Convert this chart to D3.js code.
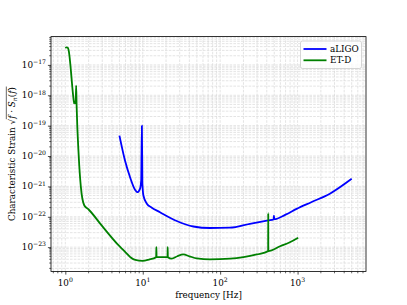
<!DOCTYPE html>
<html>
<head>
<meta charset="utf-8">
<script src="https://cdn.jsdelivr.net/npm/d3@7"></script>
<style>
  html, body { margin: 0; padding: 0; background: #fff; }
  svg { display: block; font-family: "DejaVu Serif", serif; }
</style>
</head>
<body>
<svg id="chart" width="407" height="305"></svg>
<script>
// series (frequency in Hz, log10 of characteristic strain)
const aligoFreq = [5.0, 5.9, 6.86, 7.95, 8.5, 9.22, 9.55, 9.75, 9.9, 10.2, 11.3, 13.1, 16.7, 27.5, 45, 73.8, 134, 242, 418, 490, 495, 500, 700, 971, 1500, 2612, 5000];
const aligoLog  = [-19.33, -20.15, -20.70, -21.11, -21.19, -21.08, -20.8, -19.0, -20.9, -21.30, -21.57, -21.70, -21.85, -22.14, -22.32, -22.37, -22.36, -22.23, -22.12, -22.09, -21.96, -22.08, -21.93, -21.74, -21.52, -21.24, -20.75];

const etFreq = [1.0, 1.04, 1.08, 1.1, 1.28, 1.30, 1.33, 1.36, 1.38, 1.40, 1.49, 1.585, 1.76, 2, 3, 5, 6, 7, 8, 10, 12, 14.9, 15.0, 15.1, 18, 20.9, 21.0, 21.1, 23.7, 28, 33.4, 40, 50, 73.8, 134, 200, 297, 417, 418, 419, 594, 795, 1018];
const etLog  = [-16.44, -16.42, -16.44, -16.5, -18.15, -18.27, -18.2, -18.27, -17.68, -18.35, -20.0, -21.0, -21.63, -21.76, -22.31, -22.97, -23.17, -23.34, -23.42, -23.45, -23.41, -23.33, -23.0, -23.33, -23.33, -23.33, -23.0, -23.33, -23.38, -23.3, -23.24, -23.3, -23.37, -23.40, -23.38, -23.33, -23.24, -23.13, -21.88, -23.13, -22.97, -22.84, -22.69];

const seriesNames = ['aLIGO', 'ET-D'];
const seriesColors = ['#0000ff', '#008000'];

const xMajor = [1, 10, 100, 1000];
const yMajorExp = [-23, -22, -21, -20, -19, -18, -17];

const W = 407, H = 305;
const margin = {top: 36.6, right: 41, bottom: 33.5, left: 51};
const x0 = margin.left, x1 = W - margin.right;
const y0 = margin.top, y1 = H - margin.bottom;
const fs = 8.8;

const svg = d3.select('#chart');

const series = [
  aligoFreq.map((f, i) => ({f: f, s: Math.pow(10, aligoLog[i])})),
  etFreq.map((f, i) => ({f: f, s: Math.pow(10, etLog[i])}))
];

// matplotlib-like 5% margins in log space
const allF = aligoFreq.concat(etFreq).map(Math.log10);
const allS = aligoLog.concat(etLog);
function padded(ext) {
  const d = (ext[1] - ext[0]) * 0.05;
  return [Math.pow(10, ext[0] - d), Math.pow(10, ext[1] + d)];
}
const x = d3.scaleLog().domain(padded(d3.extent(allF))).range([x0, x1]);
const y = d3.scaleLog().domain(padded(d3.extent(allS))).range([y1, y0]);

// minor positions
function minors(scale) {
  const [a, b] = scale.domain();
  const out = [];
  for (let e = Math.floor(Math.log10(a)); e <= Math.ceil(Math.log10(b)); e++) {
    for (let m = 2; m <= 9; m++) {
      const v = m * Math.pow(10, e);
      if (v >= a && v <= b) out.push(v);
    }
  }
  return out;
}
const xMinor = minors(x);
const yMajor = yMajorExp.map(e => Math.pow(10, e));
const yMinor = minors(y);

// grid
const grid = svg.append('g')
    .attr('stroke', '#d9d9d9')
    .attr('stroke-width', 0.7)
    .attr('stroke-dasharray', '2.6,1.2');
grid.selectAll('line.gx')
    .data(xMajor.concat(xMinor))
    .join('line')
    .attr('x1', d => x(d)).attr('x2', d => x(d))
    .attr('y1', y0).attr('y2', y1);
grid.selectAll('line.gy')
    .data(yMajor.concat(yMinor))
    .join('line')
    .attr('class', 'gy')
    .attr('y1', d => y(d)).attr('y2', d => y(d))
    .attr('x1', x0).attr('x2', x1);

// curves
const line = d3.line()
    .curve(d3.curveMonotoneX)
    .x(d => x(d.f))
    .y(d => y(d.s));
svg.append('g')
    .selectAll('path')
    .data(series)
    .join('path')
    .attr('d', line)
    .attr('fill', 'none')
    .attr('stroke', (d, i) => seriesColors[i])
    .attr('stroke-width', 1.8)
    .attr('stroke-linejoin', 'round');

// axes
const xAxis = svg.append('g')
    .attr('transform', `translate(0,${y1})`)
    .call(d3.axisBottom(x).tickValues(xMajor).tickSize(3.1).tickFormat(''));
xAxis.append('g').call(g => g.selectAll('line')
    .data(xMinor).join('line')
    .attr('x1', d => x(d)).attr('x2', d => x(d))
    .attr('y1', 0).attr('y2', 1.8).attr('stroke', '#000').attr('stroke-width', 0.6));

const yAxis = svg.append('g')
    .attr('transform', `translate(${x0},0)`)
    .call(d3.axisLeft(y).tickValues(yMajor).tickSize(3.1).tickFormat(''));
yAxis.append('g').call(g => g.selectAll('line')
    .data(yMinor).join('line')
    .attr('y1', d => y(d)).attr('y2', d => y(d))
    .attr('x1', 0).attr('x2', -1.8).attr('stroke', '#000').attr('stroke-width', 0.6));

svg.selectAll('.domain').remove();
svg.selectAll('.tick line').attr('stroke-width', 0.7);

// tick labels as 10^n
function powLabel(sel, e) {
  sel.append('tspan').text('10');
  sel.append('tspan')
      .attr('dy', -fs * 0.42)
      .attr('font-size', fs * 0.7)
      .text(String(e).replace('-', '\u2212'));
}
xMajor.forEach(v => {
  const t = svg.append('text')
      .attr('x', x(v))
      .attr('y', y1 + 14)
      .attr('text-anchor', 'middle')
      .attr('font-size', fs)
      .attr('fill', '#000');
  powLabel(t, Math.round(Math.log10(v)));
});
yMajorExp.forEach(e => {
  const t = svg.append('text')
      .attr('x', x0 - 5)
      .attr('y', y(Math.pow(10, e)) + 3)
      .attr('text-anchor', 'end')
      .attr('font-size', fs)
      .attr('fill', '#000');
  powLabel(t, e);
});

// frame
svg.append('rect')
    .attr('x', x0).attr('y', y0)
    .attr('width', x1 - x0).attr('height', y1 - y0)
    .attr('fill', 'none')
    .attr('stroke', '#000')
    .attr('stroke-width', 0.8);

// axis labels
svg.append('text')
    .attr('x', (x0 + x1) / 2)
    .attr('y', H - 7)
    .attr('text-anchor', 'middle')
    .attr('font-size', fs)
    .text('frequency [Hz]');

const ylab = svg.append('g')
    .attr('transform', `translate(14.5,${(y0 + y1) / 2}) rotate(-90)`);
const yt = ylab.append('text')
    .attr('text-anchor', 'middle')
    .attr('font-size', fs);
yt.append('tspan').text('Characteristic Strain ');
yt.append('tspan').text('\u221A');
yt.append('tspan').attr('font-style', 'italic').text('f');
yt.append('tspan').text(' \u00B7 ');
yt.append('tspan').attr('font-style', 'italic').text('S');
yt.append('tspan').attr('font-style', 'italic').attr('font-size', fs * 0.7).attr('dy', 2).text('n');
yt.append('tspan').attr('dy', -2).text('(');
yt.append('tspan').attr('font-style', 'italic').text('f');
yt.append('tspan').text(')');
const node = yt.node();
const nch = node.getNumberOfChars();
const sq = 'Characteristic Strain '.length;
const ox1 = node.getEndPositionOfChar(sq).x - 0.4;
const ox2 = node.getEndPositionOfChar(nch - 1).x + 0.5;
ylab.append('line')
    .attr('x1', ox1).attr('x2', ox2)
    .attr('y1', -fs * 0.93).attr('y2', -fs * 0.93)
    .attr('stroke', '#000').attr('stroke-width', 0.6);

// legend
const lg = svg.append('g');
lg.append('rect')
    .attr('x', 300.5).attr('y', 41)
    .attr('width', 61).attr('height', 27.5)
    .attr('rx', 2)
    .attr('fill', '#fff').attr('fill-opacity', 0.8)
    .attr('stroke', '#cccccc').attr('stroke-width', 0.8);
seriesNames.forEach((name, i) => {
  const ly = 49 + i * 11.3;
  lg.append('line')
      .attr('x1', 303.5).attr('x2', 326.5)
      .attr('y1', ly).attr('y2', ly)
      .attr('stroke', seriesColors[i]).attr('stroke-width', 1.8);
  lg.append('text')
      .attr('x', 330).attr('y', ly + 3.1)
      .attr('font-size', fs)
      .text(name);
});
</script>
</body>
</html>
